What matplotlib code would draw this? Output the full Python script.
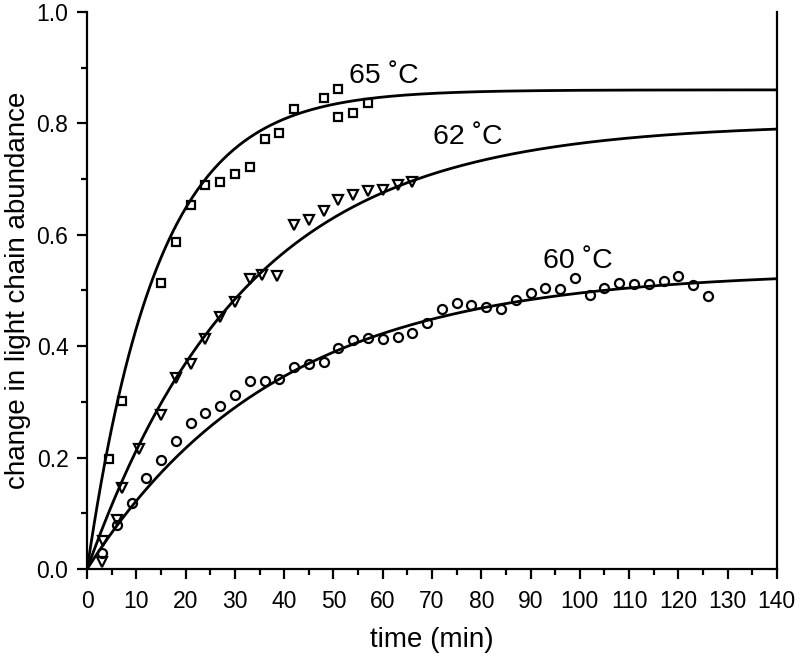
import numpy as np
import matplotlib
matplotlib.use('Agg')
import matplotlib.pyplot as plt
from matplotlib.ticker import MultipleLocator

plt.rcParams['font.family'] = ['Liberation Sans', 'DejaVu Sans']

# datos
t_65 = [4.5, 7, 15, 18, 21, 24, 27, 30, 33, 36, 39, 42, 48, 51, 51, 54, 57]
y_65 = [0.197, 0.302, 0.513, 0.586, 0.654, 0.690, 0.695, 0.709, 0.722, 0.772,
        0.782, 0.825, 0.845, 0.861, 0.812, 0.818, 0.837]

t_62 = [3, 3.2, 6, 7, 10.5, 15, 18, 21, 24, 27, 30, 33, 35.5, 38.5, 42, 45,
        48, 51, 54, 57, 60, 63, 66]
y_62 = [0.013, 0.050, 0.088, 0.145, 0.215, 0.276, 0.343, 0.367, 0.412, 0.453,
        0.480, 0.520, 0.528, 0.525, 0.618, 0.627, 0.643, 0.662, 0.671, 0.679,
        0.680, 0.689, 0.695]

t_60 = [3, 6, 9, 12, 15, 18, 21, 24, 27, 30, 33, 36, 39, 42, 45, 48, 51, 54,
        57, 60, 63, 66, 69, 72, 75, 78, 81, 84, 87, 90, 93, 96, 99, 102, 105,
        108, 111, 114, 117, 120, 123, 126]
y_60 = [0.029, 0.078, 0.118, 0.163, 0.196, 0.229, 0.262, 0.280, 0.293, 0.312,
        0.338, 0.338, 0.341, 0.362, 0.368, 0.371, 0.396, 0.411, 0.414, 0.412,
        0.416, 0.424, 0.441, 0.466, 0.477, 0.473, 0.471, 0.466, 0.483, 0.495,
        0.504, 0.502, 0.522, 0.492, 0.504, 0.514, 0.512, 0.511, 0.516, 0.526,
        0.510, 0.490]

# ajuste de primer orden: y = A (1 - exp(-k t))
fit_A = {'65': 0.860, '62': 0.800, '60': 0.535}
fit_k = {'65': 0.070, '62': 0.031, '60': 0.026}

fig = plt.figure(figsize=(8, 6.6), dpi=100)
ax = fig.add_axes([0.109, 0.138, 0.862, 0.844])

t_fit = np.linspace(0, 140, 400)
for key in ['65', '62', '60']:
    ax.plot(t_fit, fit_A[key] * (1 - np.exp(-fit_k[key] * t_fit)),
            color='black', lw=2.0, zorder=2)

mk = dict(linestyle='none', markerfacecolor='none', markeredgecolor='black',
          markeredgewidth=1.6, zorder=3)
ax.plot(t_65, y_65, marker='s', markersize=6, **mk)
ax.plot(t_62, y_62, marker='v', markersize=7.5, **mk)
ax.plot(t_60, y_60, marker='o', markersize=6.5, **mk)

ax.text(53.2, 0.885, '65 ˚C', fontsize=20.5, va='center', ha='left')
ax.text(70.2, 0.775, '62 ˚C', fontsize=20.5, va='center', ha='left')
ax.text(92.5, 0.553, '60 ˚C', fontsize=20.5, va='center', ha='left')

ax.set_xlim(0, 140)
ax.set_ylim(0, 1.0)
ax.xaxis.set_major_locator(MultipleLocator(10))
ax.xaxis.set_minor_locator(MultipleLocator(5))
ax.yaxis.set_major_locator(MultipleLocator(0.2))
ax.yaxis.set_minor_locator(MultipleLocator(0.1))
ax.yaxis.set_major_formatter(plt.FuncFormatter(lambda v, p: f'{v:.1f}'))
ax.tick_params(which='major', direction='out', length=7.5, width=1.6,
               labelsize=16.5, top=False, right=False)
ax.tick_params(axis='x', which='major', pad=8)
ax.tick_params(axis='y', which='major', pad=6)
ax.tick_params(which='minor', direction='out', length=4, width=1.6,
               top=False, right=False)
ax.spines['top'].set_visible(False)
for s in ['left', 'bottom', 'right']:
    ax.spines[s].set_linewidth(1.6)

ax.set_xlabel('time (min)', fontsize=20, va='center')
ax.set_ylabel('change in light chain abundance', fontsize=20, va='center')
ax.xaxis.set_label_coords(0.5, -0.127)
ax.yaxis.set_label_coords(-0.101, 0.5)

fig.savefig('out.png', dpi=100)
